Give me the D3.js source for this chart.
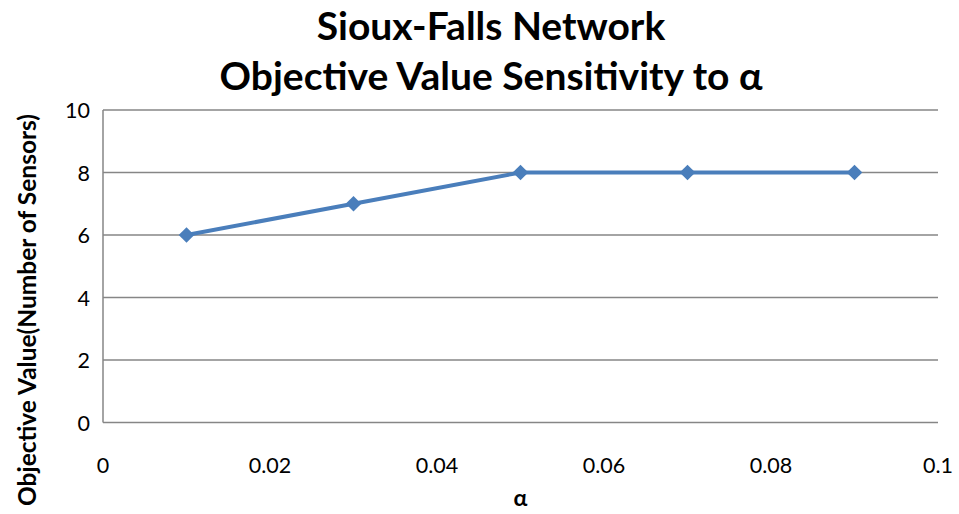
<!DOCTYPE html>
<html>
<head>
<meta charset="utf-8">
<script src="https://cdn.jsdelivr.net/npm/d3@7"></script>
<style>
  body { margin: 0; background: #fff; }
  text { font-family: Lato, "Open Sans", sans-serif; fill: #000; }
</style>
</head>
<body>
<svg width="959" height="514"></svg>
<script>
// Chart data
var alphas = [0.01, 0.03, 0.05, 0.07, 0.09];
var objValues = [6, 7, 8, 8, 8];
var xTicks = [0, 0.02, 0.04, 0.06, 0.08, 0.1];
var yTicks = [0, 2, 4, 6, 8, 10];
var titleLines = ["Sioux-Falls Network", "Objective Value Sensitivity to \u03b1"];

var svg = d3.select("svg"),
	width = +svg.attr("width"),
	height = +svg.attr("height");

var plot = {left: 103, right: 938, top: 110, bottom: 422.5};

var x = d3.scaleLinear().domain([0, 0.1]).range([plot.left, plot.right]);
var y = d3.scaleLinear().domain([0, 10]).range([plot.bottom, plot.top]);

// Horizontal gridlines
svg.append("g")
	.selectAll("line")
	.data(yTicks.filter(function(d) { return d > 0; }))
	.enter()
	.append("line")
		.attr("x1", plot.left)
		.attr("x2", plot.right)
		.attr("y1", function(d) { return y(d); })
		.attr("y2", function(d) { return y(d); })
		.style("stroke", "#868686")
		.style("stroke-width", 1.5);

// Axes lines (no ticks)
svg.append("line")
	.attr("x1", plot.left).attr("x2", plot.left)
	.attr("y1", plot.top).attr("y2", plot.bottom)
	.style("stroke", "#868686").style("stroke-width", 1.5);
svg.append("line")
	.attr("x1", plot.left).attr("x2", plot.right)
	.attr("y1", plot.bottom).attr("y2", plot.bottom)
	.style("stroke", "#868686").style("stroke-width", 1.5);

// Tick labels
svg.append("g")
	.selectAll("text")
	.data(yTicks)
	.enter()
	.append("text")
		.attr("x", 90)
		.attr("y", function(d) { return y(d) + 8; })
		.attr("text-anchor", "end")
		.style("font-size", "21.5px")
		.text(function(d) { return d; });

svg.append("g")
	.selectAll("text")
	.data(xTicks)
	.enter()
	.append("text")
		.attr("x", function(d) { return x(d); })
		.attr("y", 473)
		.attr("text-anchor", "middle")
		.style("font-size", "21.5px")
		.text(function(d) { return d3.format("~g")(d); });

// Series line
var line = d3.line()
	.x(function(d, i) { return x(alphas[i]); })
	.y(function(d) { return y(d); });

svg.append("path")
	.datum(objValues)
	.attr("d", line)
	.style("fill", "none")
	.style("stroke", "#4a7ebb")
	.style("stroke-width", 4)
	.style("stroke-linejoin", "round");

svg.append("g")
	.selectAll("path")
	.data(objValues)
	.enter()
	.append("path")
		.attr("d", d3.symbol().type(d3.symbolDiamond2).size(155))
		.attr("transform", function(d, i) { return "translate(" + x(alphas[i]) + "," + y(d) + ")"; })
		.style("fill", "#4a7ebb");

// Titles
svg.append("g")
	.selectAll("text")
	.data(titleLines)
	.enter()
	.append("text")
		.attr("x", 491)
		.attr("y", function(d, i) { return 40 + i * 50; })
		.attr("text-anchor", "middle")
		.style("font-size", "39px")
		.style("font-weight", "bold")
		.text(function(d) { return d; });

svg.append("text")
	.attr("x", x(0.05))
	.attr("y", 506)
	.attr("text-anchor", "middle")
	.style("font-size", "23px")
	.style("font-weight", "bold")
	.text("\u03b1");

svg.append("text")
	.attr("transform", "translate(36,310) rotate(-90)")
	.attr("text-anchor", "middle")
	.style("font-size", "24.5px")
	.style("font-weight", "bold")
	.text("Objective Value(Number of Sensors)");
</script>
</body>
</html>
